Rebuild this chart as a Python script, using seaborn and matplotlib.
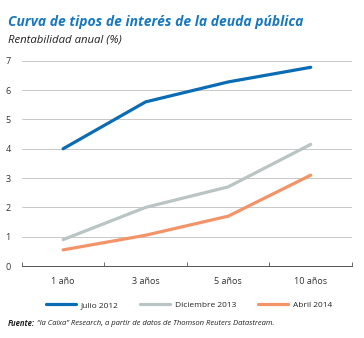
import matplotlib
matplotlib.use("Agg")
import matplotlib.pyplot as plt
import seaborn as sns
import pandas as pd

categories = ["1 año", "3 años", "5 años", "10 años"]
julio_2012 = [4.0, 5.6, 6.28, 6.78]
diciembre_2013 = [0.9, 2.0, 2.7, 4.15]
abril_2014 = [0.55, 1.05, 1.7, 3.1]
series_names = ["Julio 2012", "Diciembre 2013", "Abril 2014"]
colors = ["#0a6cb4", "#b9c4c4", "#f39468"]
yticks = [0, 1, 2, 3, 4, 5, 6, 7]

rows = []
for name, vals in zip(series_names, [julio_2012, diciembre_2013, abril_2014]):
    for c, v in zip(categories, vals):
        rows.append({"plazo": c, "valor": v, "serie": name})
df = pd.DataFrame(rows)

sns.set_theme(style="white")
plt.rcParams["font.family"] = ["Open Sans", "DejaVu Sans"]

fig = plt.figure(figsize=(3.64, 3.38), dpi=100)
ax = fig.add_axes([0.06, 0.213, 0.907, 0.607])

sns.lineplot(data=df, x="plazo", y="valor", hue="serie", hue_order=series_names,
             palette=colors, linewidth=2.3, ax=ax, legend=False, sort=False)

ax.set_xlim(-0.5, 3.5)
ax.set_ylim(0, 7)
ax.set_yticks(yticks)
ax.set_yticklabels([str(t) for t in yticks], fontsize=6.5, color="#333333")
ax.yaxis.grid(True, color="#c8c8c8", linewidth=0.7)
ax.set_axisbelow(True)
ax.tick_params(axis="y", length=0, pad=8)

ax.set_xticks([-0.5, 0.5, 1.5, 2.5, 3.5])
ax.set_xticklabels([])
ax.set_xticks(range(len(categories)), minor=True)
ax.set_xticklabels(categories, minor=True, fontsize=6.5, color="#333333")
ax.tick_params(axis="x", which="major", length=3, width=0.6, color="#555555", direction="in", bottom=True)
ax.tick_params(axis="x", which="minor", length=0, pad=8)
ax.set_xlabel("")
ax.set_ylabel("")
for s in ["top", "right", "left"]:
    ax.spines[s].set_visible(False)
ax.spines["bottom"].set_color("#555555")
ax.spines["bottom"].set_linewidth(0.7)

handles = [plt.Line2D([], [], color=c, linewidth=2.3) for c in colors]
fig.legend(handles, series_names, loc="center", bbox_to_anchor=(0.52, 0.098), ncol=3,
           frameon=False, fontsize=6, handlelength=3.6, columnspacing=2.6, handletextpad=0.6)

fig.text(0.022, 0.935, "Curva de tipos de interés de la deuda pública", fontsize=10,
         fontweight="bold", fontstyle="italic", color="#1878be", va="center")
fig.text(0.022, 0.882, "Rentabilidad anual (%)", fontsize=8.2, fontstyle="italic",
         color="#222222", va="center")
t1 = fig.text(0.022, 0.043, "Fuente:", fontsize=5.5, fontweight="bold", fontstyle="italic",
              color="#222222", va="center")
fig.canvas.draw()
bb = t1.get_window_extent()
x2 = (bb.x1 + 2) / fig.bbox.width
fig.text(x2, 0.043, "“la Caixa” Research, a partir de datos de Thomson Reuters Datastream.",
         fontsize=5.5, fontstyle="italic", color="#222222", va="center")

fig.savefig("out.png", dpi=100)
